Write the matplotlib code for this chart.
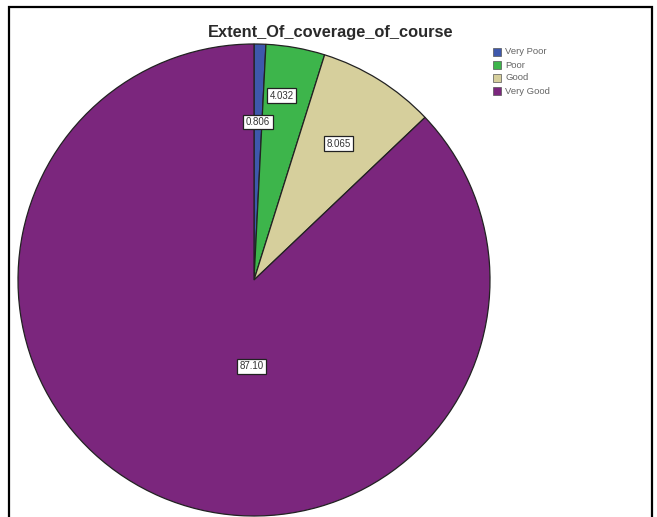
import matplotlib
matplotlib.use('Agg')
import matplotlib.pyplot as plt
import numpy as np
from matplotlib.patches import Rectangle

categories = ["Very Poor", "Poor", "Good", "Very Good"]
percents = [0.806, 4.032, 8.065, 87.10]
labels = ["0.806", "4.032", "8.065", "87.10"]
colors = ["#3E58AC", "#3DB54B", "#D6CF9C", "#7B267D"]

plt.rcParams['font.family'] = ['Liberation Sans', 'DejaVu Sans']

fig = plt.figure(figsize=(6.57, 5.17), dpi=100)
W, H = 657, 517
cx, cy, r = 254, 280, 236
ax = fig.add_axes([(cx - r) / W, 1 - (cy + r) / H, 2 * r / W, 2 * r / H])

wedges, _ = ax.pie(percents, colors=colors, startangle=90, counterclock=False,
                   radius=1, wedgeprops=dict(edgecolor='#222222', linewidth=0.9))
ax.set_xlim(-1, 1)
ax.set_ylim(-1, 1)
ax.set_aspect('auto')
ax.axis('off')

# label placement (radius fraction, angle tweak)
label_r = [0.67, 0.79, 0.68, 0.365]
for w, lab, lr, i in zip(wedges, labels, label_r, range(4)):
    ang = np.deg2rad((w.theta1 + w.theta2) / 2)
    if i == 3:
        ang = np.deg2rad(-91.5)
    if i == 1:
        ang = np.deg2rad(81.4)
    ax.text(lr * np.cos(ang), lr * np.sin(ang), lab, ha='center', va='center',
            fontsize=7, color='#333333',
            bbox=dict(boxstyle='square,pad=0.25', facecolor='white', edgecolor='#222222', linewidth=0.9))

fig.text(331 / W, 1 - 32 / H, "Extent_Of_coverage_of_course", ha='center', va='center',
         fontsize=11.8, fontweight='bold', color='#2a2a2a')

# legend
for k, (cat, col) in enumerate(zip(categories, colors)):
    y = 52 + k * 13
    fig.patches.append(Rectangle((493 / W, 1 - (y + 4) / H), 8 / W, 8 / H,
                                 transform=fig.transFigure, facecolor=col,
                                 edgecolor='#555555', linewidth=0.5))
    fig.text(505 / W, 1 - y / H, cat, ha='left', va='center', fontsize=6.8, color='#666666')

# outer frame
fig.patches.append(Rectangle((9 / W, -0.02), (652 - 9) / W, 1 - 7 / H + 0.02,
                             transform=fig.transFigure, fill=False,
                             edgecolor='black', linewidth=1.6))

fig.savefig("out.png", dpi=100)
